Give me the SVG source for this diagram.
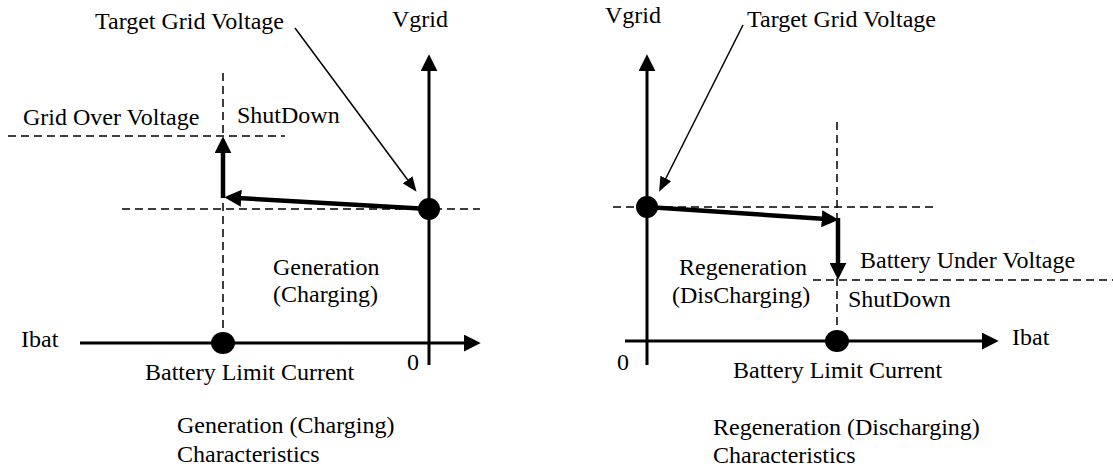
<svg xmlns="http://www.w3.org/2000/svg" width="1113" height="471" viewBox="0 0 1113 471">
<defs>
<style>
text{font-family:"Liberation Serif","Times New Roman",serif;font-size:24px;fill:#000}
.axis{stroke:#000;stroke-width:3;fill:none}
.thick{stroke:#000;stroke-width:4.5;fill:none}
.thin{stroke:#000;stroke-width:1.5;fill:none}
.dash{stroke:#000;stroke-width:1.5;stroke-dasharray:8 5;fill:none}
.dot{fill:#000}
</style>
<marker id="ah" markerUnits="userSpaceOnUse" markerWidth="17" markerHeight="17" refX="4" refY="8" orient="auto" viewBox="0 0 16 16"><path d="M0,0 L16,8 L0,16 z" fill="#000"/></marker>
<marker id="ahs" markerUnits="userSpaceOnUse" markerWidth="15" markerHeight="12" refX="4" refY="6" orient="auto" viewBox="0 0 15 12"><path d="M0,0 L15,6 L0,12 z" fill="#000"/></marker>
</defs>
<rect width="1113" height="471" fill="#fff"/>
<g id="connectors">
<!-- left -->
<line class="dash" x1="122" y1="209" x2="480" y2="209"/>
<line class="dash" x1="8" y1="136" x2="285" y2="136"/>
<line class="dash" x1="223" y1="73" x2="223" y2="335"/>
<line class="axis" x1="429" y1="365" x2="429" y2="67" marker-end="url(#ah)"/>
<line class="axis" x1="80" y1="343" x2="468" y2="343" marker-end="url(#ah)"/>
<line class="thick" x1="429" y1="209" x2="237" y2="198" marker-end="url(#ah)"/>
<line class="thick" x1="223" y1="198" x2="223" y2="149" marker-end="url(#ah)"/>
<line class="thin" x1="295" y1="28" x2="410" y2="183" marker-end="url(#ahs)"/>
<!-- right -->
<line class="dash" x1="613" y1="207" x2="935" y2="207"/>
<line class="dash" x1="813" y1="280" x2="1113" y2="280"/>
<line class="dash" x1="837" y1="122" x2="837" y2="333"/>
<line class="axis" x1="647" y1="365" x2="647" y2="67" marker-end="url(#ah)"/>
<line class="axis" x1="625" y1="341" x2="986" y2="341" marker-end="url(#ah)"/>
<line class="thick" x1="647" y1="207" x2="826" y2="219" marker-end="url(#ah)"/>
<line class="thick" x1="838" y1="218" x2="838" y2="267" marker-end="url(#ah)"/>
<line class="thin" x1="743" y1="25" x2="664" y2="182" marker-end="url(#ahs)"/>
</g>
<g id="left-points">
<circle class="dot" cx="429" cy="209" r="11"/>
<ellipse class="dot" cx="223" cy="343" rx="12" ry="11"/>
</g>
<g id="right-points">
<circle class="dot" cx="647" cy="207" r="11"/>
<ellipse class="dot" cx="837" cy="341" rx="12" ry="11"/>
</g>
<g id="left-labels">
<text x="95" y="29">Target Grid Voltage</text>
<text x="392" y="27">Vgrid</text>
<text x="23" y="125">Grid Over Voltage</text>
<text x="237" y="123">ShutDown</text>
<text x="273" y="275">Generation</text>
<text x="273" y="302">(Charging)</text>
<text x="21" y="347">Ibat</text>
<text x="407" y="370">0</text>
<text x="145" y="380">Battery Limit Current</text>
<text x="177" y="433">Generation (Charging)</text>
<text x="177" y="462">Characteristics</text>
</g>
<g id="right-labels">
<text x="605" y="23">Vgrid</text>
<text x="747" y="27">Target Grid Voltage</text>
<text x="860" y="268">Battery Under Voltage</text>
<text x="679" y="275">Regeneration</text>
<text x="672" y="303">(DisCharging)</text>
<text x="848" y="307">ShutDown</text>
<text x="1012" y="345">Ibat</text>
<text x="617" y="370">0</text>
<text x="733" y="378">Battery Limit Current</text>
<text x="713" y="435">Regeneration (Discharging)</text>
<text x="713" y="463">Characteristics</text>
</g>
</svg>
